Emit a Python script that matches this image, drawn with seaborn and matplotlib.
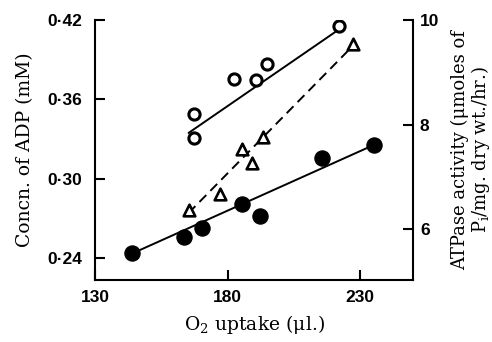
import matplotlib
matplotlib.use("Agg")
import matplotlib.pyplot as plt
import seaborn as sns

# ADP concentration (filled circles, left axis)
adp_x = [144.1, 163.4, 170.4, 185.6, 192.2, 215.5, 235.2]
adp_y = [0.244, 0.2556, 0.2624, 0.2808, 0.2717, 0.316, 0.3255]
adp_fit_x = [144.1, 235.2]
adp_fit_y = [0.2435, 0.3255]

# open circles (left axis)
oc_x = [167.2, 167.5, 182.4, 190.6, 194.8, 222.2]
oc_y = [0.3487, 0.3306, 0.3757, 0.3744, 0.3865, 0.4152]
oc_fit_x = [165.3, 221.5]
oc_fit_y = [0.3346, 0.4121]

# ATPase activity (triangles, right axis)
tri_x = [165.3, 177.1, 185.6, 189.4, 193.5, 227.2]
tri_y = [6.36, 6.67, 7.54, 7.26, 7.76, 9.54]
tri_fit_x = [165.3, 227.2]
tri_fit_y = [6.31, 9.50]

x_ticks = [130, 180, 230]
left_ticks = [0.24, 0.30, 0.36, 0.42]
left_labels = ["0·24", "0·30", "0·36", "0·42"]
right_ticks = [6, 8, 10]

sns.set_style("ticks")
plt.rcParams["font.family"] = ["DejaVu Serif"]
plt.rcParams["mathtext.fontset"] = "dejavuserif"
plt.rcParams["text.color"] = "black"
plt.rcParams["axes.labelcolor"] = "black"
plt.rcParams["xtick.color"] = "black"
plt.rcParams["ytick.color"] = "black"
plt.rcParams["axes.edgecolor"] = "black"

fig = plt.figure(figsize=(4.92, 3.42), dpi=100)
ax = fig.add_axes([95/492, 62/342, 318/492, 260/342])
ax2 = ax.twinx()

lw = 1.4
sns.lineplot(x=adp_fit_x, y=adp_fit_y, ax=ax, color="black", lw=lw)
sns.scatterplot(x=adp_x, y=adp_y, ax=ax, color="black", s=120, edgecolor="black", zorder=5)
sns.lineplot(x=oc_fit_x, y=oc_fit_y, ax=ax, color="black", lw=lw)
sns.scatterplot(x=oc_x, y=oc_y, ax=ax, marker="o", facecolor="white", edgecolor="black",
                linewidth=2.2, s=65, zorder=5)
sns.lineplot(x=tri_fit_x, y=tri_fit_y, ax=ax2, color="black", lw=lw, linestyle=(0, (5, 3)))
sns.scatterplot(x=tri_x, y=tri_y, ax=ax2, marker="^", facecolor="white", edgecolor="black",
                linewidth=1.9, s=70, zorder=5)

ax.set_xlim(130, 250)
ax.set_ylim(0.2234, 0.42)
ax2.set_ylim(5.03, 10.0)

ax.set_xticks(x_ticks)
ax.set_yticks(left_ticks)
ax.set_yticklabels(left_labels)
ax2.set_yticks(right_ticks)

for lab in ax.get_xticklabels() + ax.get_yticklabels() + ax2.get_yticklabels():
    lab.set_fontfamily(["Liberation Sans", "DejaVu Sans"])
    lab.set_fontweight("bold")
    lab.set_fontsize(12.5)
    lab.set_color("black")

for a in (ax, ax2):
    a.spines["top"].set_visible(False)
    for s in a.spines.values():
        s.set_linewidth(1.5)
        s.set_color("black")
    a.tick_params(direction="in", length=7, width=1.5, color="black", labelcolor="black")
ax.tick_params(axis="y", pad=9)
ax.tick_params(axis="x", pad=7)
ax2.tick_params(axis="y", pad=5)
ax.spines["right"].set_visible(False)
ax2.spines["left"].set_visible(False)
ax2.spines["bottom"].set_visible(False)
ax2.spines["right"].set_visible(True)

ax.set_xlabel("O$_2$ uptake (μl.)", fontsize=13.5, labelpad=6, color="black")
ax.set_ylabel("Concn. of ADP (mM)", fontsize=13.5, labelpad=10, color="black")
ax2.set_ylabel("ATPase activity (μmoles of\nP$_\\mathrm{i}$/mg. dry wt./hr.)", fontsize=13,
               labelpad=8, linespacing=1.0, color="black")

fig.savefig("out.png", dpi=100)
